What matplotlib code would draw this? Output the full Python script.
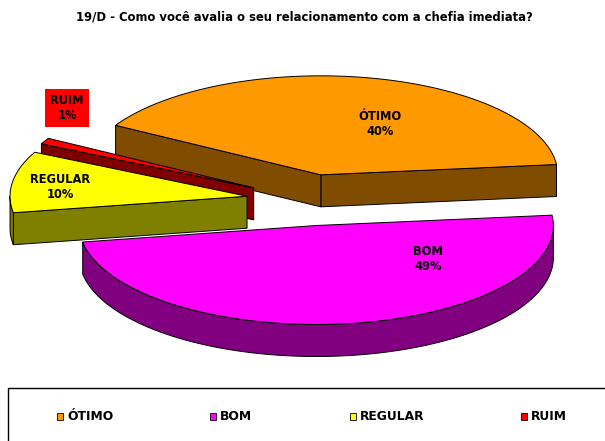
import numpy as np
import matplotlib
matplotlib.use('Agg')
import matplotlib.pyplot as plt
from matplotlib.patches import Polygon, Rectangle

# ---- data ----
categories = ['ÓTIMO', 'BOM', 'REGULAR', 'RUIM']
values = [40, 49, 10, 1]
title = '19/D - Como você avalia o seu relacionamento com a chefia imediata?'

# ---- style / layout ----
top_colors = ['#FF9900', '#FF00FF', '#FFFF00', '#FF0000']
side_colors = ['#7F4C00', '#800080', '#808000', '#800000']
CX, CY = 308, 200          # pie centre (px)
RX, RY = 237, 99           # ellipse radii (px)
DEPTH = 32                 # thickness (px)
EXPLODE = 0.26             # explode fraction of radius
START = 150                # start angle (deg), clockwise
label_xy = [(380, 124), (428, 259), (60, 187), (67, 108)]
legend_x = [57, 210, 350, 521]
FONT = 'DejaVu Sans'
FS_TITLE = 8.4
FS_LABEL = 8.3
FS_LEG = 8.8
EDGE_LW = 0.7

fig = plt.figure(figsize=(6.05, 4.41), dpi=100)
ax = fig.add_axes([0, 0, 1, 1])
ax.set_xlim(0, 605)
ax.set_ylim(441, 0)
ax.axis('off')


def pt(th, ox, oy, z=0.0):
    t = np.radians(th)
    return (CX + ox + RX * np.cos(t), CY + oy - RY * np.sin(t) + z)


def arc(a, b, ox, oy, z=0.0, n=None):
    if n is None:
        n = max(4, int(abs(b - a) * 1.5))
    ths = np.linspace(a, b, n)
    return [pt(t, ox, oy, z) for t in ths]


def front_intervals(a, b):
    out = []
    for k in range(-2, 3):
        lo, hi = 180 + 360 * k, 360 + 360 * k
        s, e = max(a, lo), min(b, hi)
        if e > s:
            out.append((s, e))
    return out


total = float(sum(values))
slices = []
start = START
for i, v in enumerate(values):
    span = v / total * 360.0
    a, b = start - span, start
    start -= span
    mid = (a + b) / 2
    m = np.radians(mid)
    ox = EXPLODE * RX * np.cos(m)
    oy = -EXPLODE * RY * np.sin(m)
    slices.append(dict(i=i, a=a, b=b, mid=mid, ox=ox, oy=oy))

# painter's order: back first
order = sorted(slices, key=lambda s: -np.sin(np.radians(s['mid'])))

for s in order:
    i, a, b, ox, oy = s['i'], s['a'], s['b'], s['ox'], s['oy']
    apex_t = (CX + ox, CY + oy)
    apex_b = (CX + ox, CY + oy + DEPTH)
    sc = side_colors[i]
    # radial walls
    if np.cos(np.radians(a)) > 0:
        p = pt(a, ox, oy)
        pb = pt(a, ox, oy, DEPTH)
        ax.add_patch(Polygon([apex_t, p, pb, apex_b], closed=True, fc=sc, ec='black', lw=EDGE_LW))
    if np.cos(np.radians(b)) < 0:
        p = pt(b, ox, oy)
        pb = pt(b, ox, oy, DEPTH)
        ax.add_patch(Polygon([apex_t, p, pb, apex_b], closed=True, fc=sc, ec='black', lw=EDGE_LW))
    # outer wall
    for (lo, hi) in front_intervals(a, b):
        poly = arc(lo, hi, ox, oy) + arc(hi, lo, ox, oy, DEPTH)
        ax.add_patch(Polygon(poly, closed=True, fc=sc, ec='black', lw=EDGE_LW))
    # top face
    poly = [apex_t] + arc(a, b, ox, oy)
    ax.add_patch(Polygon(poly, closed=True, fc=top_colors[i], ec='black', lw=EDGE_LW))

# data labels
for i, (name, v) in enumerate(zip(categories, values)):
    x, y = label_xy[i]
    kw = {}
    if i == 3:
        kw['bbox'] = dict(boxstyle='square,pad=0.45', fc='#FF0000', ec='none')
    ax.text(x, y, f'{name}\n{v}%', ha='center', va='center', fontsize=FS_LABEL,
            fontweight='bold', family=FONT, linespacing=1.25, **kw)

# title
ax.text(304, 17, title, ha='center', va='center', fontsize=FS_TITLE,
        fontweight='bold', family=FONT)

# legend box
ax.add_patch(Rectangle((8, 388), 700, 100, fc='none', ec='black', lw=1.0, clip_on=True))
for i, name in enumerate(categories):
    x = legend_x[i]
    ax.add_patch(Rectangle((x, 413), 6, 7, fc=top_colors[i], ec='black', lw=0.6))
    ax.text(x + 10, 417, name, ha='left', va='center', fontsize=FS_LEG,
            fontweight='bold', family=FONT)

fig.savefig('out.png', dpi=100, facecolor='white')
